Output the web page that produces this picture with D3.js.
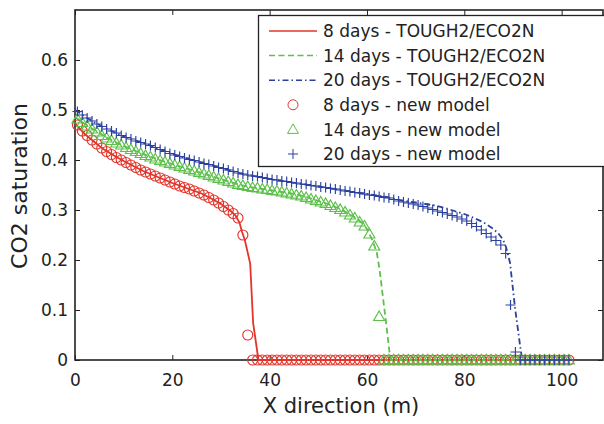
<!DOCTYPE html>
<html>
<head>
<meta charset="utf-8">
<script src="https://cdn.jsdelivr.net/npm/d3@7"></script>
<style>
  body { margin: 0; background: #fff; }
  text { font-family: "DejaVu Sans", sans-serif; fill: #222; }
</style>
</head>
<body>
<svg id="chart" width="604" height="424"></svg>
<script>
// tick labels
var xTicks = [0, 20, 40, 60, 80, 100];
var yTicks = [0, 0.1, 0.2, 0.3, 0.4, 0.5, 0.6];

// grid of the new model (cell centres, m)
var gridX = [
  0.5, 1.5, 2.5, 3.5, 4.5, 5.5, 6.5, 7.5, 8.5, 9.5,
  10.5, 11.5, 12.5, 13.5, 14.5, 15.5, 16.5, 17.5, 18.5, 19.5,
  20.5, 21.5, 22.5, 23.5, 24.5, 25.5, 26.5, 27.5, 28.5, 29.5,
  30.5, 31.5, 32.5, 33.5, 34.5, 35.5, 36.5, 37.5, 38.5, 39.5,
  40.5, 41.5, 42.5, 43.5, 44.5, 45.5, 46.5, 47.5, 48.5, 49.5,
  50.5, 51.5, 52.5, 53.5, 54.5, 55.5, 56.5, 57.5, 58.5, 59.5,
  60.5, 61.5, 62.5, 63.5, 64.5, 65.5, 66.5, 67.5, 68.5, 69.5,
  70.5, 71.5, 72.5, 73.5, 74.5, 75.5, 76.5, 77.5, 78.5, 79.5,
  80.5, 81.5, 82.5, 83.5, 84.5, 85.5, 86.5, 87.5, 88.5, 89.5,
  90.5, 91.5, 92.5, 93.5, 94.5, 95.5, 96.5, 97.5, 98.5, 99.5,
  100.5, 101.5
];

// new model, CO2 saturation
var model8 = [
  0.470, 0.458, 0.449, 0.440, 0.432, 0.424, 0.417, 0.411, 0.405, 0.400,
  0.395, 0.390, 0.385, 0.380, 0.376, 0.372, 0.368, 0.364, 0.360, 0.356,
  0.352, 0.348, 0.345, 0.342, 0.338, 0.334, 0.330, 0.325, 0.320, 0.314,
  0.307, 0.300, 0.293, 0.284, 0.250, 0.050, 0, 0, 0, 0,
  0, 0, 0, 0, 0, 0, 0, 0, 0, 0,
  0, 0, 0, 0, 0, 0, 0, 0, 0, 0,
  0, 0, 0, 0, 0, 0, 0, 0, 0, 0,
  0, 0, 0, 0, 0, 0, 0, 0, 0, 0,
  0, 0, 0, 0, 0, 0, 0, 0, 0, 0,
  0, 0, 0, 0, 0, 0, 0, 0, 0, 0,
  0, 0
];
var model14 = [
  0.482, 0.475, 0.468, 0.462, 0.456, 0.449, 0.444, 0.439, 0.434, 0.430,
  0.425, 0.421, 0.417, 0.413, 0.409, 0.406, 0.402, 0.399, 0.396, 0.393,
  0.390, 0.387, 0.384, 0.381, 0.378, 0.375, 0.372, 0.369, 0.366, 0.363,
  0.360, 0.357, 0.354, 0.351, 0.349, 0.347, 0.345, 0.344, 0.342, 0.341,
  0.339, 0.338, 0.336, 0.334, 0.332, 0.330, 0.328, 0.325, 0.322, 0.319,
  0.316, 0.313, 0.309, 0.305, 0.301, 0.296, 0.290, 0.284, 0.276, 0.268,
  0.252, 0.228, 0.087, 0, 0, 0, 0, 0, 0, 0,
  0, 0, 0, 0, 0, 0, 0, 0, 0, 0,
  0, 0, 0, 0, 0, 0, 0, 0, 0, 0,
  0, 0, 0, 0, 0, 0, 0, 0, 0, 0,
  0, 0
];
var model20 = [
  0.497, 0.490, 0.484, 0.478, 0.472, 0.467, 0.462, 0.458, 0.454, 0.449,
  0.445, 0.442, 0.438, 0.435, 0.432, 0.429, 0.425, 0.421, 0.417, 0.413,
  0.410, 0.407, 0.404, 0.401, 0.399, 0.396, 0.393, 0.391, 0.388, 0.385,
  0.383, 0.380, 0.377, 0.374, 0.372, 0.370, 0.368, 0.367, 0.365, 0.363,
  0.361, 0.360, 0.358, 0.357, 0.355, 0.354, 0.352, 0.351, 0.349, 0.348,
  0.346, 0.345, 0.343, 0.342, 0.340, 0.338, 0.337, 0.335, 0.334, 0.332,
  0.330, 0.329, 0.327, 0.325, 0.324, 0.321, 0.318, 0.316, 0.314, 0.312,
  0.310, 0.307, 0.304, 0.301, 0.298, 0.295, 0.292, 0.289, 0.286, 0.282,
  0.278, 0.273, 0.267, 0.260, 0.253, 0.246, 0.239, 0.230, 0.213, 0.110,
  0.016, 0, 0, 0, 0, 0, 0, 0, 0, 0,
  0, 0
];

// TOUGH2/ECO2N curves
var toughX8 = [0, 1, 2, 3, 4, 5, 6, 8, 10, 12, 14, 16, 18, 20, 22, 24, 26, 28, 30, 31, 32, 33, 33.8, 34.3, 34.9, 36, 36.6, 37.7, 101.5];
var toughY8 = [0.474, 0.462, 0.452, 0.444, 0.436, 0.428, 0.421, 0.409, 0.398, 0.388, 0.378, 0.370, 0.362, 0.354, 0.347, 0.340, 0.333, 0.323, 0.312, 0.305, 0.298, 0.289, 0.275, 0.257, 0.240, 0.193, 0.074, 0, 0];

var toughX14 = [0, 2, 4, 6, 8, 10, 12, 14, 16, 18, 20, 22, 24, 26, 28, 30, 32, 34, 36, 38, 40, 42, 44, 46, 48, 50, 52, 54, 56, 58, 59, 60, 61, 62, 62.6, 63.1, 64.1, 64.7, 65, 101.5];
var toughY14 = [0.486, 0.472, 0.460, 0.448, 0.437, 0.428, 0.420, 0.412, 0.405, 0.398, 0.392, 0.386, 0.380, 0.374, 0.368, 0.362, 0.356, 0.350, 0.346, 0.343, 0.340, 0.337, 0.334, 0.330, 0.325, 0.318, 0.312, 0.304, 0.294, 0.282, 0.274, 0.262, 0.242, 0.216, 0.180, 0.140, 0.060, 0.010, 0, 0];

var toughX20 = [0, 2, 4, 6, 8, 10, 12, 14, 16, 18, 20, 22, 24, 26, 28, 30, 32, 34, 36, 38, 40, 42, 44, 46, 48, 50, 52, 54, 56, 58, 60, 62, 64, 66, 68, 70, 72, 74, 76, 78, 80, 82, 84, 86, 87, 88, 88.6, 89, 89.4, 90.4, 91.5, 91.9, 101.5];
var toughY20 = [0.500, 0.487, 0.475, 0.465, 0.456, 0.447, 0.440, 0.434, 0.427, 0.419, 0.412, 0.406, 0.400, 0.395, 0.390, 0.384, 0.379, 0.373, 0.369, 0.366, 0.362, 0.359, 0.356, 0.353, 0.350, 0.347, 0.344, 0.341, 0.338, 0.335, 0.332, 0.329, 0.326, 0.321, 0.318, 0.315, 0.312, 0.309, 0.304, 0.298, 0.292, 0.284, 0.275, 0.262, 0.253, 0.240, 0.225, 0.210, 0.194, 0.106, 0.026, 0, 0];

var legendLabels = [
  '8 days - TOUGH2/ECO2N', '14 days - TOUGH2/ECO2N', '20 days - TOUGH2/ECO2N',
  '8 days - new model', '14 days - new model', '20 days - new model'
];

var red = '#e3342a', green = '#5cc04a', blue = '#2c40a0';

var svg = d3.select('#chart');
var x = d3.scaleLinear().domain([0, 108.5]).range([75, 603]);
var y = d3.scaleLinear().domain([0, 0.7]).range([360, 10]);

// axes, ticks pointing inward
svg.append('g')
  .attr('transform', 'translate(0,360)')
  .call(d3.axisBottom(x).tickValues(xTicks).tickSize(-5).tickSizeOuter(0).tickPadding(14).tickFormat(d3.format('d')))
  .call(function(g){ g.select('.domain').remove(); });
svg.append('g')
  .attr('transform', 'translate(0,10)')
  .call(d3.axisTop(x).tickValues(xTicks).tickSize(-5).tickSizeOuter(0).tickFormat(''))
  .call(function(g){ g.select('.domain').remove(); });
svg.append('g')
  .attr('transform', 'translate(75,0)')
  .call(d3.axisLeft(y).tickValues(yTicks).tickSize(-5).tickSizeOuter(0).tickPadding(7).tickFormat(function(d){ return d === 0 ? '0' : d3.format('.1f')(d); }))
  .call(function(g){ g.select('.domain').remove(); });
svg.append('g')
  .attr('transform', 'translate(603,0)')
  .call(d3.axisRight(y).tickValues(yTicks).tickSize(-5).tickSizeOuter(0).tickFormat(''))
  .call(function(g){ g.select('.domain').remove(); });

svg.selectAll('.tick line').attr('stroke', '#222').attr('stroke-width', 1);
svg.selectAll('.tick text').attr('font-size', 17).attr('font-family', '"DejaVu Sans", sans-serif').attr('fill', '#222');

svg.append('rect')
  .attr('x', 75).attr('y', 10).attr('width', 528).attr('height', 350)
  .attr('fill', 'none').attr('stroke', '#222').attr('stroke-width', 1.6);

svg.append('text')
  .attr('x', 341).attr('y', 413)
  .attr('text-anchor', 'middle').attr('font-size', 21)
  .text('X direction (m)');
svg.append('text')
  .attr('transform', 'translate(27,186) rotate(-90)')
  .attr('text-anchor', 'middle').attr('font-size', 22)
  .text('CO2 saturation');

// TOUGH2 lines
var line = d3.line().x(function(d){ return x(d[0]); }).y(function(d){ return y(d[1]); });
var curves = [
  { xs: toughX8, ys: toughY8, color: red, dash: null },
  { xs: toughX14, ys: toughY14, color: green, dash: '6,3.5' },
  { xs: toughX20, ys: toughY20, color: blue, dash: '6,3,1.5,3' }
];
curves.forEach(function(c){
  svg.append('path')
    .datum(d3.zip(c.xs, c.ys))
    .attr('d', line)
    .attr('fill', 'none')
    .attr('stroke', c.color)
    .attr('stroke-width', 1.8)
    .attr('stroke-dasharray', c.dash);
});

// marker shapes
var triPath = 'M0,-5.5L5.5,4L-5.5,4Z';
var plusPath = 'M-5,0H5M0,-5V5';

function drawMarkers(vals, kind, color){
  var g = svg.append('g');
  var pts = d3.zip(gridX, vals);
  if (kind === 'circle') {
    g.selectAll('circle').data(pts).enter().append('circle')
      .attr('cx', function(d){ return x(d[0]); })
      .attr('cy', function(d){ return y(d[1]); })
      .attr('r', 5)
      .attr('fill', 'none').attr('stroke', color).attr('stroke-width', 1.15);
  } else {
    g.selectAll('path').data(pts).enter().append('path')
      .attr('transform', function(d){ return 'translate(' + x(d[0]) + ',' + y(d[1]) + ')'; })
      .attr('d', kind === 'tri' ? triPath : plusPath)
      .attr('fill', 'none').attr('stroke', color).attr('stroke-width', 1.15);
  }
}
drawMarkers(model8, 'circle', red);
drawMarkers(model14, 'tri', green);
drawMarkers(model20, 'plus', blue);

// legend
var legend = svg.append('g');
legend.append('rect')
  .attr('x', 258.5).attr('y', 15.5).attr('width', 350).attr('height', 151)
  .attr('fill', '#fff').attr('stroke', '#222').attr('stroke-width', 1.3);

var legendItems = legend.selectAll('.item').data(legendLabels).enter().append('g')
  .attr('class', 'item')
  .attr('transform', function(d, i){ return 'translate(0,' + (31 + i * 24.6) + ')'; });

legendItems.append('text')
  .attr('x', 323).attr('dy', '0.36em').attr('font-size', 17)
  .text(function(d){ return d; });

legendItems.each(function(d, i){
  var g = d3.select(this);
  if (i < 3) {
    g.append('line')
      .attr('x1', 269).attr('x2', 317).attr('y1', 0).attr('y2', 0)
      .attr('stroke', curves[i].color).attr('stroke-width', 1.5)
      .attr('stroke-dasharray', curves[i].dash);
  } else if (i === 3) {
    g.append('circle').attr('cx', 293).attr('cy', 0).attr('r', 5)
      .attr('fill', 'none').attr('stroke', red);
  } else {
    g.append('path')
      .attr('transform', 'translate(293,0)')
      .attr('d', i === 4 ? triPath : plusPath)
      .attr('fill', 'none').attr('stroke', i === 4 ? green : blue);
  }
});
</script>
</body>
</html>
